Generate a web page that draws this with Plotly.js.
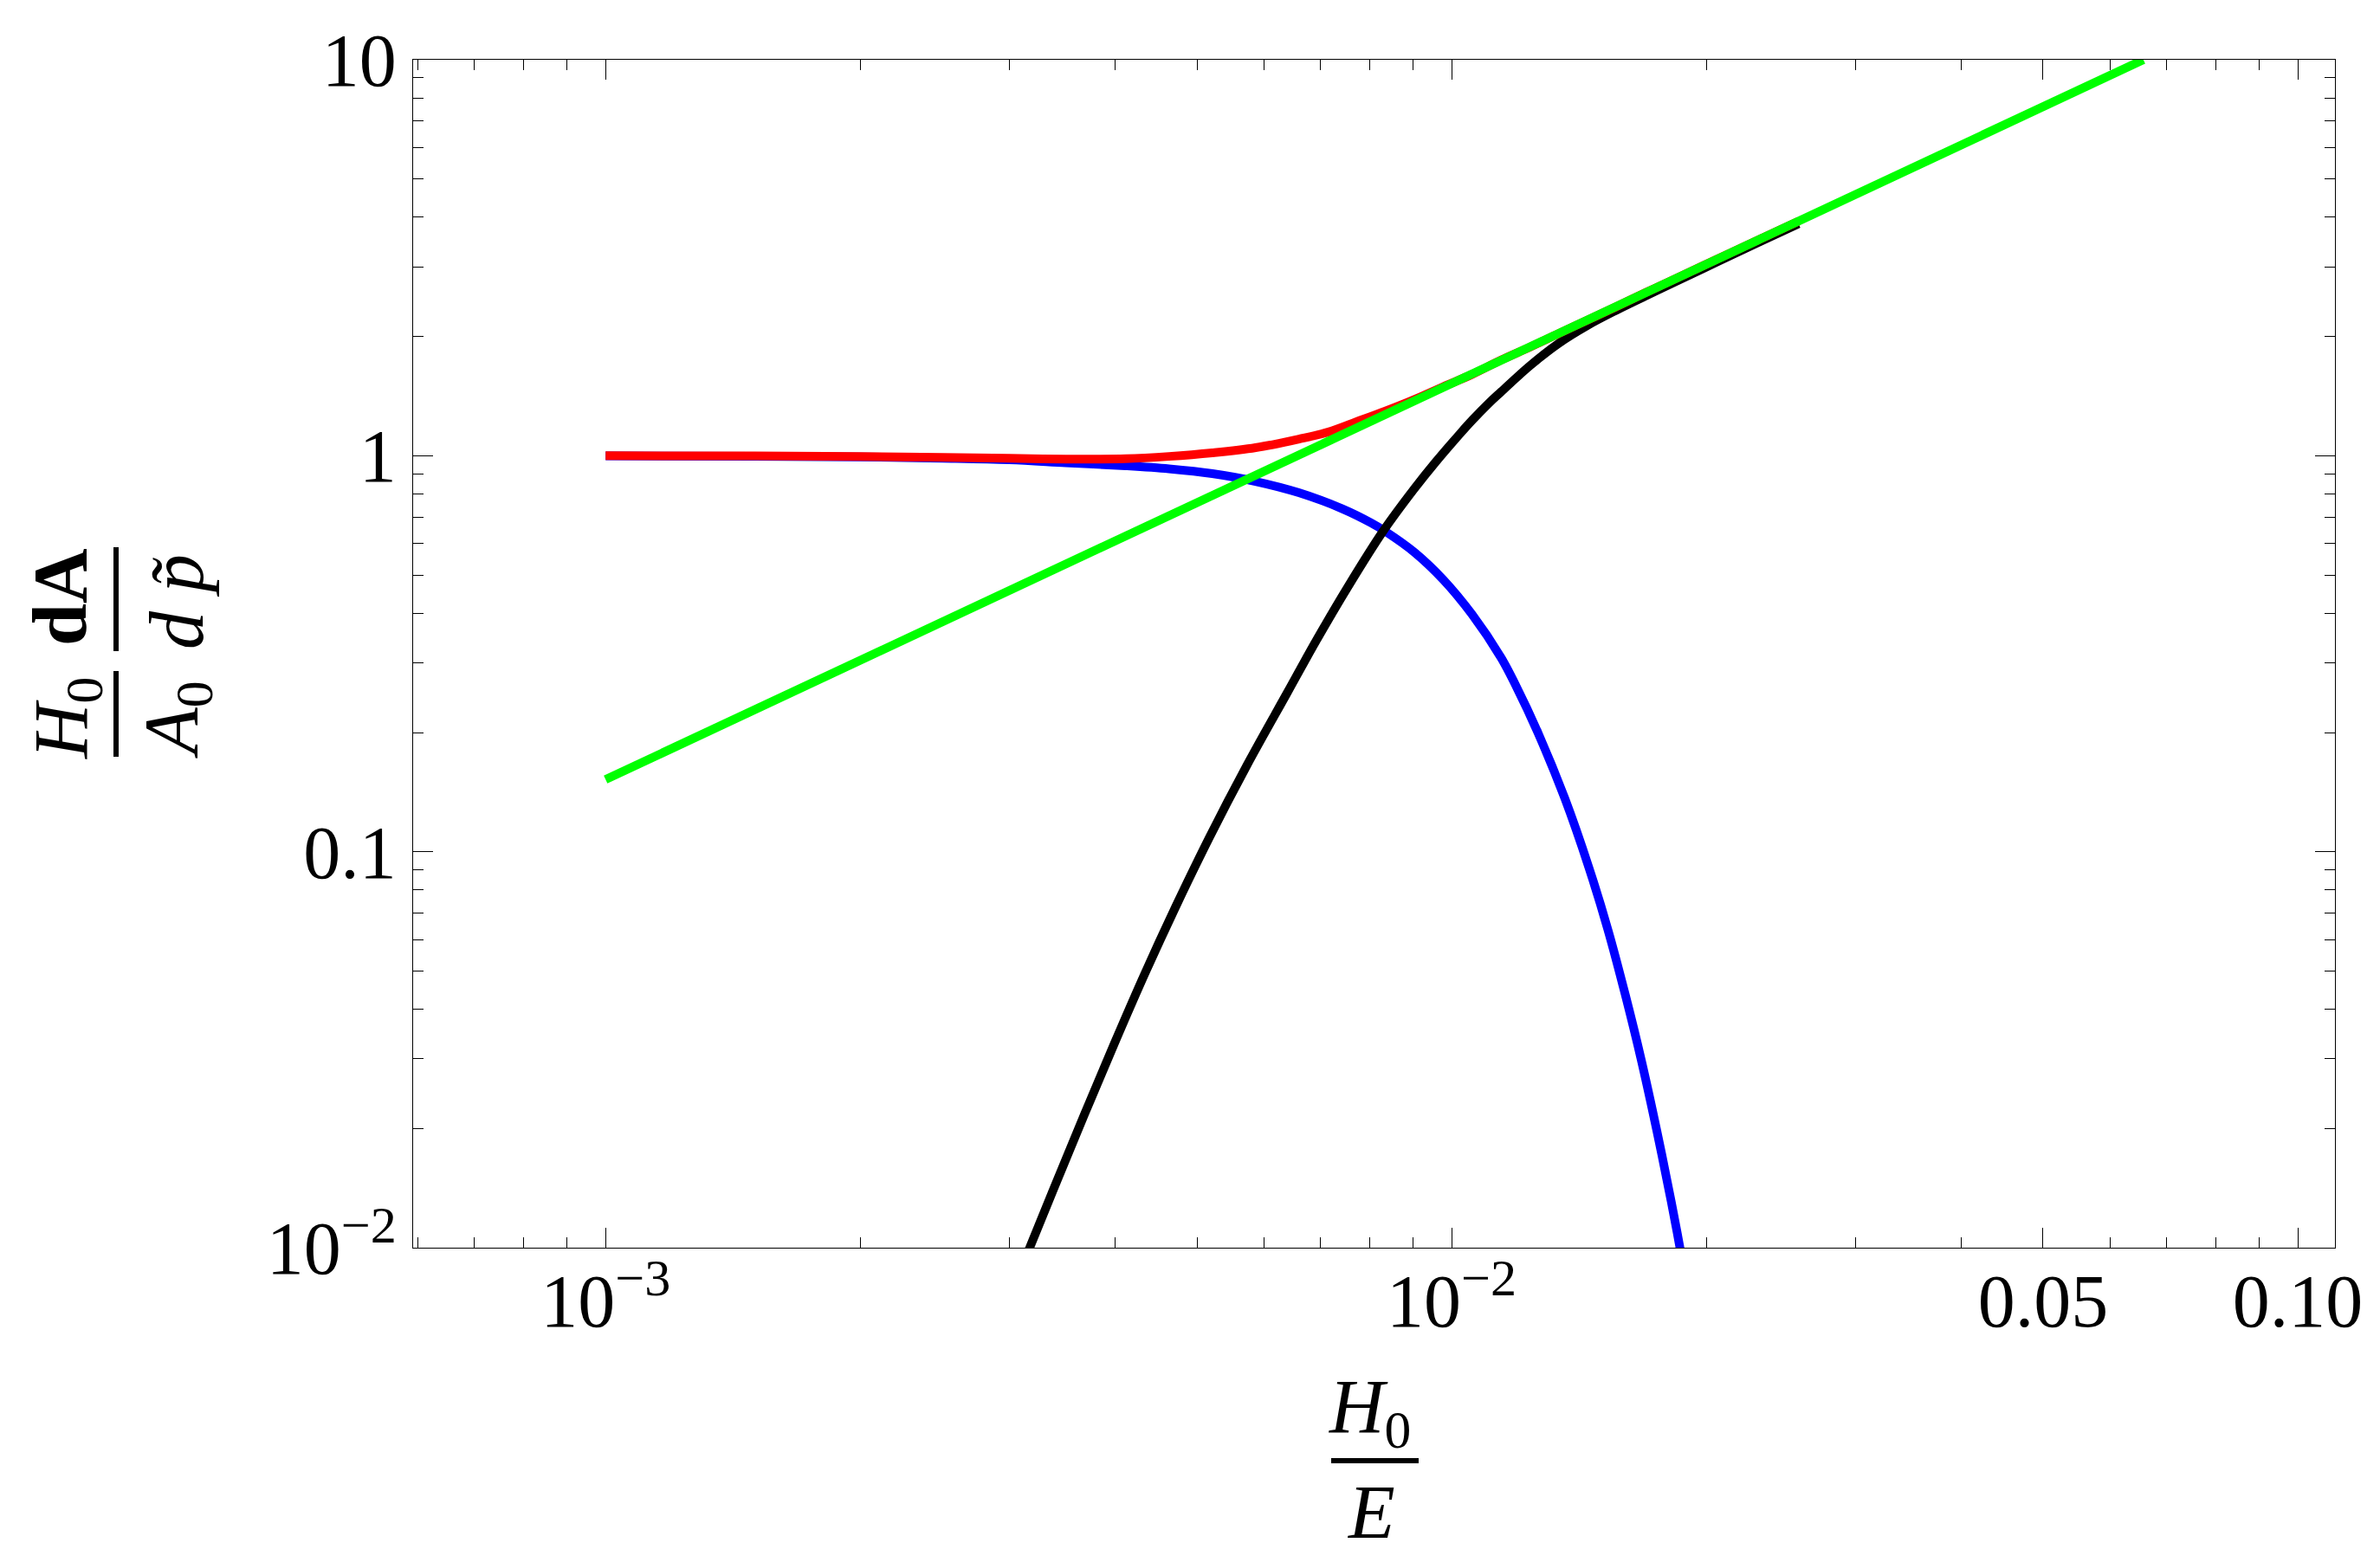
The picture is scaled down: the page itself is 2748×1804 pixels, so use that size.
<!DOCTYPE html>
<html>
<head>
<meta charset="utf-8">
<script src="https://cdn.plot.ly/plotly-3.0.1.min.js"></script>
<style>
  html, body { margin: 0; padding: 0; background: #ffffff; }
  #chart { width: 2748px; height: 1804px; }
</style>
</head>
<body>
<div id="chart"></div>
<script>
// ---------------- data ----------------
const blueX = [0.001, 0.0015, 0.002, 0.0025, 0.003, 0.0035, 0.004118, 0.004634, 0.005214, 0.005865,
               0.006598, 0.007425, 0.008031, 0.008353, 0.009036, 0.009777, 0.01057, 0.01144, 0.01189,
               0.01265, 0.0136, 0.01453, 0.0153, 0.01604, 0.01675, 0.01748, 0.01818, 0.01862, 0.01906];
const blueY = [0.999, 0.997, 0.993, 0.986, 0.977, 0.960, 0.943, 0.9264, 0.9010, 0.8612,
               0.8067, 0.7348, 0.6769, 0.6437, 0.5705, 0.4862, 0.3976, 0.3090, 0.2645,
               0.1996, 0.1367, 0.0911, 0.06353, 0.04353, 0.02984, 0.01971, 0.01305, 0.00995, 0.0075];

const blackX = [0.0030, 0.003158, 0.003385, 0.003676, 0.003992, 0.004335, 0.004709, 0.005173, 0.005728,
                0.006395, 0.006918, 0.007544, 0.008289, 0.009036, 0.009585, 0.01025, 0.01057, 0.01108,
                0.01144, 0.01237, 0.01338, 0.01447, 0.01566, 0.01694, 0.01833, 0.02062, 0.02319, 0.0257];
const blackY = [0.0074, 0.00978, 0.01407, 0.02156, 0.03273, 0.04903, 0.07197, 0.1088, 0.1653,
                0.2524, 0.3414, 0.4675, 0.6427, 0.8259, 0.9667, 1.142, 1.228, 1.361,
                1.450, 1.687, 1.922, 2.133, 2.331, 2.530, 2.743, 3.089, 3.477, 3.853];

const redX = [0.001, 0.0015, 0.002, 0.0025, 0.003, 0.0035, 0.004118, 0.004634, 0.005214, 0.005865,
              0.006598, 0.00714, 0.007723, 0.008353, 0.009036, 0.009777, 0.01057, 0.01144, 0.01237,
              0.01338, 0.01447, 0.01566, 0.01694, 0.01833, 0.02062, 0.02319, 0.0257];
const redY = [1.000, 0.999, 0.995, 0.990, 0.985, 0.981, 0.983, 0.996, 1.017, 1.048,
              1.102, 1.147, 1.219, 1.297, 1.387, 1.495, 1.605, 1.745, 1.88,
              2.035, 2.20, 2.38, 2.58, 2.79, 3.14, 3.53, 3.91];

const greenX = [0.001, 0.0657];
const greenY = [0.1522, 10];

// ---------------- ticks ----------------
const xTickVals = [0.001, 0.01, 0.05, 0.1];
const xTickText = ['10<sup>\u22123</sup>', '10<sup>\u22122</sup>', '0.05', '0.10'];
const xMinorVals = [0.0006, 0.0007, 0.0008, 0.0009,
                    0.002, 0.003, 0.004, 0.005, 0.006, 0.007, 0.008, 0.009,
                    0.02, 0.03, 0.04, 0.06, 0.07, 0.08, 0.09];
const yTickVals = [0.01, 0.1, 1, 10];
const yTickText = ['10<sup>\u22122</sup>', '0.1', '1', '10'];
const yMinorVals = [0.02, 0.03, 0.04, 0.05, 0.06, 0.07, 0.08, 0.09,
                    0.2, 0.3, 0.4, 0.5, 0.6, 0.7, 0.8, 0.9,
                    2, 3, 4, 5, 6, 7, 8, 9];

// ---------------- layout helpers ----------------
const W = 2748, H = 1804;
const M = {l: 477, r: 52, t: 69, b: 363};
const PW = W - M.l - M.r, PH = H - M.t - M.b;
const FONT = '"Liberation Serif", "Times New Roman", serif';
function px2x(px) { return (px - M.l) / PW; }
function py2y(py) { return (H - M.b - py) / PH; }
function ann(text, px, py, angle) {
  return {xref: 'paper', yref: 'paper', x: px2x(px), y: py2y(py),
          xanchor: 'center', yanchor: 'middle', showarrow: false,
          textangle: angle || 0, text: text,
          font: {family: FONT, size: 88, color: '#000000'}};
}
function bar(x0, y0, x1, y1) {
  return {type: 'line', xref: 'paper', yref: 'paper',
          x0: px2x(x0), y0: py2y(y0), x1: px2x(x1), y1: py2y(y1),
          line: {color: '#000000', width: 6}};
}

const lw = 10;
const sm = 1.0;
const traces = [
  {x: blueX, y: blueY, type: 'scatter', mode: 'lines', line: {color: '#0000ff', width: lw, shape: 'spline', smoothing: sm}},
  {x: blackX, y: blackY, type: 'scatter', mode: 'lines', line: {color: '#000000', width: lw, shape: 'spline', smoothing: sm}},
  {x: redX, y: redY, type: 'scatter', mode: 'lines', line: {color: '#ff0000', width: lw, shape: 'spline', smoothing: sm}},
  {x: greenX, y: greenY, type: 'scatter', mode: 'lines', line: {color: '#00ff00', width: lw}}
];

const axisCommon = {
  type: 'log', tickmode: 'array', ticks: 'inside', ticklen: 23, tickwidth: 1, tickcolor: '#000000',
  showline: true, linecolor: '#000000', linewidth: 1, mirror: 'ticks',
  showgrid: false, zeroline: false,
  tickfont: {family: FONT, size: 86, color: '#000000'}
};

const layout = {
  width: W, height: H, margin: {l: M.l, r: M.r, t: M.t, b: M.b, pad: 0},
  paper_bgcolor: '#ffffff', plot_bgcolor: '#ffffff', showlegend: false,
  xaxis: Object.assign({}, axisCommon, {
    range: [-3.2275, -0.9560], tickvals: xTickVals, ticktext: xTickText, ticklabelstandoff: -13,
    minor: {tickmode: 'array', tickvals: xMinorVals, ticks: 'inside', ticklen: 12, tickwidth: 1, tickcolor: '#000000', showgrid: false}
  }),
  yaxis: Object.assign({}, axisCommon, {
    range: [-2, 1], tickvals: yTickVals, ticktext: yTickText, ticklabelstandoff: 1,
    minor: {tickmode: 'array', tickvals: yMinorVals, ticks: 'inside', ticklen: 12, tickwidth: 1, tickcolor: '#000000', showgrid: false}
  }),
  annotations: [
    // x title: H0 / E
    ann('<i>H</i><sub>0</sub>', 1581, 1630, 0),
    ann('<i>E</i>', 1583, 1746, 0),
    // y title: (H0 / A0) (dA / d p~), rotated
    ann('<i>H</i><sub>0</sub>', 76, 830, -90),
    ann('<i>A</i><sub>0</sub>', 203, 831, -90),
    ann('<b>dA</b>', 70, 690, -90),
    ann('<i>d p\u0303</i>', 204, 695, -90)
  ],
  shapes: [
    bar(1537, 1687, 1638, 1687),
    bar(134, 775, 134, 874),
    bar(134, 632, 134, 752)
  ]
};

Plotly.newPlot('chart', traces, layout, {staticPlot: true, displayModeBar: false});
</script>
</body>
</html>
